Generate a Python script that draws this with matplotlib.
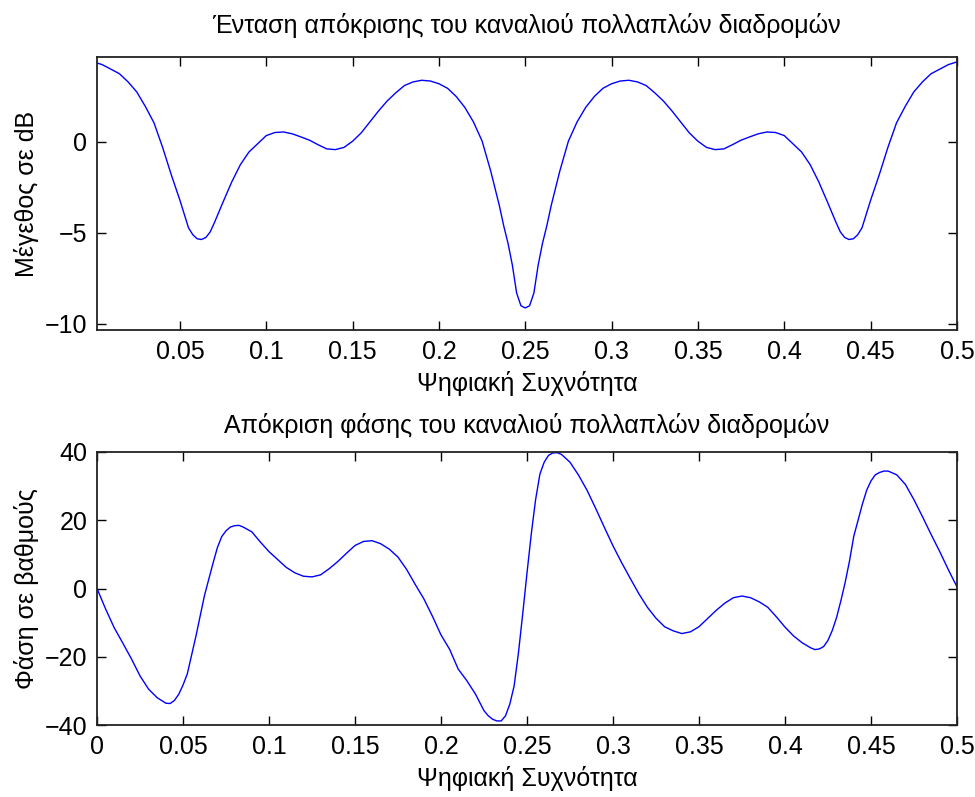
import numpy as np
import matplotlib
matplotlib.use("Agg")
import matplotlib.pyplot as plt

plt.rcParams['font.family'] = ['Liberation Sans', 'DejaVu Sans']
plt.rcParams['font.size'] = 18

# magnitude response of the multipath channel (dB)
mag_freq = [
    0.000, 0.005, 0.010, 0.015, 0.020, 0.025, 0.030, 0.035, 0.040, 0.045,
    0.050, 0.055, 0.0575, 0.060, 0.0625, 0.065, 0.0675, 0.070, 0.075, 0.080,
    0.085, 0.090, 0.095, 0.100, 0.105, 0.110, 0.115, 0.120, 0.125, 0.130,
    0.135, 0.140, 0.145, 0.150, 0.155, 0.160, 0.165, 0.170, 0.175, 0.180,
    0.185, 0.190, 0.195, 0.200, 0.205, 0.210, 0.215, 0.220, 0.225, 0.230,
    0.235, 0.2375, 0.240, 0.2425, 0.245, 0.2475, 0.250,
    0.2525, 0.255, 0.2575, 0.260, 0.2625, 0.265, 0.270, 0.275, 0.280, 0.285,
    0.290, 0.295, 0.300, 0.305, 0.310, 0.315, 0.320, 0.325, 0.330, 0.335,
    0.340, 0.345, 0.350, 0.355, 0.360, 0.365, 0.370, 0.375, 0.380, 0.385,
    0.390, 0.395, 0.400, 0.405, 0.410, 0.415, 0.420, 0.425, 0.430, 0.4325,
    0.435, 0.4375, 0.440, 0.4425, 0.445, 0.450, 0.455, 0.460, 0.465, 0.470,
    0.475, 0.480, 0.485, 0.490, 0.495, 0.500,
]
mag_db = [
    4.40, 4.25, 4.00, 3.75, 3.30, 2.75, 1.95, 1.05, -0.30, -1.80,
    -3.20, -4.72, -5.10, -5.32, -5.36, -5.25, -4.95, -4.43, -3.30, -2.20,
    -1.25, -0.55, -0.10, 0.35, 0.52, 0.55, 0.45, 0.28, 0.10, -0.15,
    -0.38, -0.42, -0.30, 0.04, 0.50, 1.10, 1.70, 2.25, 2.70, 3.10,
    3.30, 3.39, 3.35, 3.20, 2.95, 2.50, 1.90, 1.10, 0.05, -1.60,
    -3.50, -4.60, -5.56, -6.75, -8.30, -9.00, -9.12,
    -9.00, -8.30, -6.75, -5.56, -4.60, -3.50, -1.60, 0.05, 1.10, 1.90,
    2.50, 2.95, 3.20, 3.35, 3.39, 3.30, 3.10, 2.70, 2.25, 1.70,
    1.10, 0.50, 0.04, -0.30, -0.42, -0.38, -0.15, 0.10, 0.28, 0.45,
    0.55, 0.52, 0.35, -0.10, -0.55, -1.25, -2.20, -3.30, -4.43, -4.95,
    -5.25, -5.36, -5.32, -5.10, -4.72, -3.20, -1.80, -0.30, 1.05, 1.95,
    2.75, 3.30, 3.75, 4.00, 4.25, 4.40,
]

# phase response of the multipath channel (degrees)
phase_freq = [
    0.000, 0.005, 0.010, 0.015, 0.020, 0.025, 0.030, 0.035, 0.040, 0.0425,
    0.045, 0.0475, 0.050, 0.0525, 0.055, 0.0575, 0.060, 0.0625, 0.065, 0.0675,
    0.070, 0.0725, 0.075, 0.0775, 0.080, 0.0825, 0.085, 0.090, 0.095, 0.100,
    0.105, 0.110, 0.115, 0.120, 0.125, 0.130, 0.135, 0.140, 0.145, 0.150,
    0.155, 0.160, 0.165, 0.170, 0.175, 0.180, 0.185, 0.190, 0.195, 0.200,
    0.205, 0.210, 0.215, 0.220, 0.225, 0.2275, 0.230, 0.2325, 0.235, 0.2375,
    0.240, 0.2425, 0.245, 0.2475, 0.250, 0.2525, 0.255, 0.2575, 0.260, 0.2625,
    0.265, 0.2675, 0.270, 0.275, 0.280, 0.285, 0.290, 0.295, 0.300, 0.305,
    0.310, 0.315, 0.320, 0.325, 0.330, 0.335, 0.340, 0.345, 0.350, 0.355,
    0.360, 0.365, 0.370, 0.375, 0.380, 0.385, 0.390, 0.395, 0.400, 0.405,
    0.410, 0.415, 0.4175, 0.420, 0.4225, 0.425, 0.4275, 0.430, 0.4325, 0.435,
    0.4375, 0.440, 0.4425, 0.445, 0.4475, 0.450, 0.4525, 0.455, 0.4575, 0.460,
    0.465, 0.470, 0.475, 0.480, 0.485, 0.490, 0.495, 0.500,
]
phase_deg = [
    0.0, -6.0, -11.5, -16.0, -20.6, -25.6, -29.5, -32.0, -33.6, -33.7,
    -32.8, -31.0, -28.3, -25.0, -19.5, -14.0, -8.0, -2.0, 2.8, 7.5,
    12.0, 15.2, 16.9, 18.0, 18.4, 18.5, 18.0, 16.6, 13.6, 10.8,
    8.5, 6.2, 4.6, 3.6, 3.4, 4.0, 5.8, 7.9, 10.3, 12.6,
    13.8, 14.0, 13.1, 11.5, 9.2, 5.6, 1.2, -3.0, -8.1, -13.6,
    -17.8, -23.6, -27.0, -30.9, -35.8, -37.3, -38.3, -38.8, -38.8, -37.3,
    -33.9, -28.6, -19.0, -7.5, 4.5, 16.0, 26.0, 33.5, 37.0, 39.0,
    39.7, 39.8, 39.3, 37.0, 33.2, 28.7, 23.4, 17.9, 12.5, 7.6,
    3.0, -1.5, -5.5, -8.7, -11.2, -12.4, -13.2, -12.7, -11.2, -8.8,
    -6.4, -4.3, -2.7, -2.2, -2.7, -3.9, -5.5, -8.3, -11.3, -13.9,
    -15.9, -17.4, -17.9, -17.7, -17.0, -15.2, -12.3, -8.5, -3.6, 1.8,
    8.0, 15.3, 20.0, 24.7, 28.8, 31.5, 33.3, 34.0, 34.4, 34.4,
    33.3, 30.5, 26.0, 21.0, 15.8, 10.8, 5.5, 0.5,
]

xticks = [0, 0.05, 0.1, 0.15, 0.2, 0.25, 0.3, 0.35, 0.4, 0.45, 0.5]
xticklabels = ['0', '0.05', '0.1', '0.15', '0.2', '0.25', '0.3', '0.35', '0.4', '0.45', '0.5']

fig = plt.figure(figsize=(9.75, 7.97), dpi=100)
ax1 = fig.add_axes([0.0995, 0.586, 0.882, 0.3425])
ax2 = fig.add_axes([0.0995, 0.0903, 0.882, 0.3426])

for ax in (ax1, ax2):
    ax.tick_params(direction='in', length=6.5, top=True, right=True, width=1.0, pad=7)
    for s in ax.spines.values():
        s.set_linewidth(1.3)
        s.set_color('#222222')
    ax.set_xticks(xticks)
    ax.set_xticklabels(xticklabels)

ax1.plot(mag_freq, mag_db, color='#0000ff', linewidth=1.0)
ax1.set_xlim(0.002, 0.5)
ax1.set_ylim(-10.33, 4.67)
ax1.set_yticks([-10, -5, 0])
ax1.set_title('Ένταση απόκρισης του καναλιού πολλαπλών διαδρομών', fontsize=18, pad=17)
ax1.set_xlabel('Ψηφιακή Συχνότητα', labelpad=5)
ax1.set_ylabel('Μέγεθος σε dB', labelpad=4)

ax2.plot(phase_freq, phase_deg, color='#0000ff', linewidth=1.0)
ax2.set_xlim(0, 0.5)
ax2.set_ylim(-40, 40)
ax2.set_yticks([-40, -20, 0, 20, 40])
ax2.set_title('Απόκριση φάσης του καναλιού πολλαπλών διαδρομών', fontsize=18, pad=14)
ax2.set_xlabel('Ψηφιακή Συχνότητα', labelpad=5)
ax2.set_ylabel('Φάση σε βαθμούς', labelpad=4)

fig.savefig('out.png', dpi=100)
